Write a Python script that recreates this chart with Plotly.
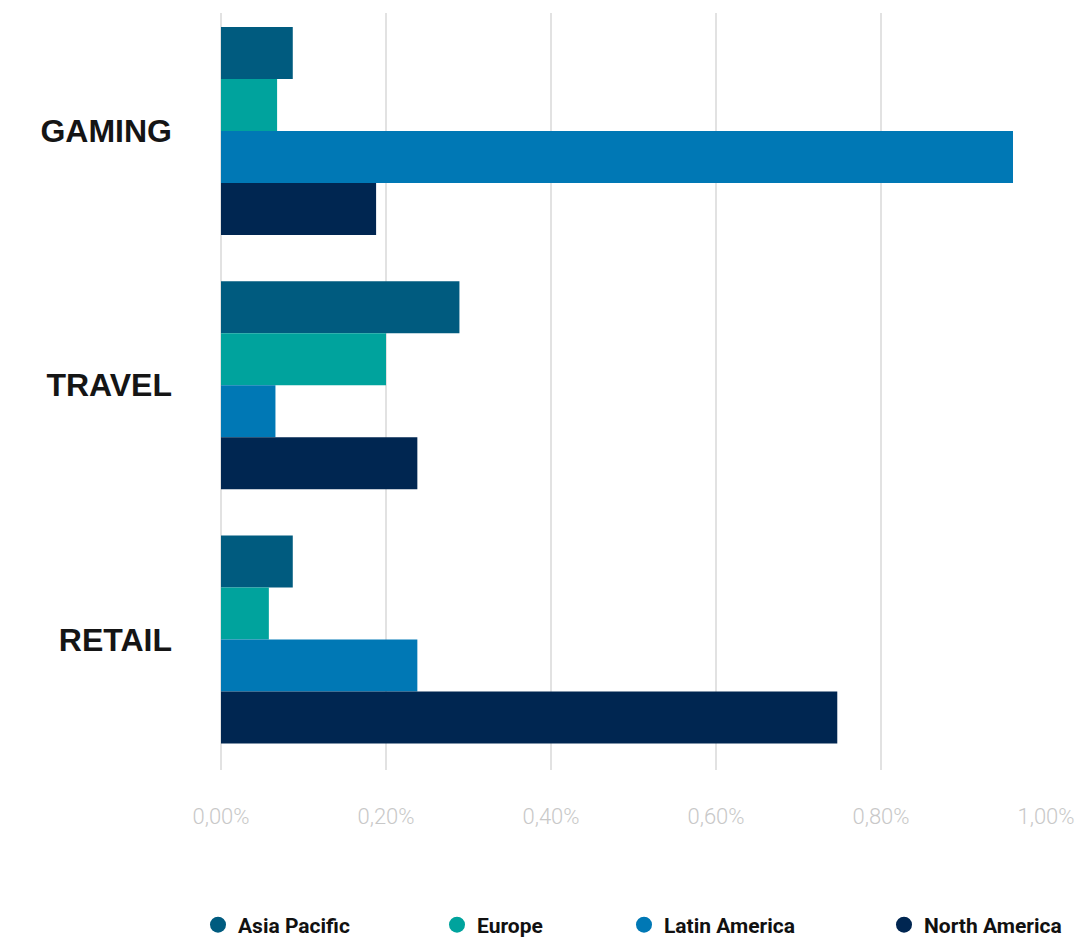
import plotly.graph_objects as go

categories = ["GAMING", "TRAVEL", "RETAIL"]
series_names = ["Asia Pacific", "Europe", "Latin America", "North America"]
asia_pacific = [0.087, 0.289, 0.087]
europe = [0.068, 0.200, 0.058]
latin_america = [0.960, 0.066, 0.238]
north_america = [0.188, 0.238, 0.747]
tick_values = [0.0, 0.2, 0.4, 0.6, 0.8, 1.0]
tick_labels = ["0,00%", "0,20%", "0,40%", "0,60%", "0,80%", "1,00%"]

colors = ["#005B7F", "#00A39D", "#0078B5", "#002651"]
series_values = [asia_pacific, europe, latin_america, north_america]

fig = go.Figure()
for name, vals, col in zip(series_names, series_values, colors):
    fig.add_trace(go.Bar(
        name=name, y=categories, x=vals, orientation="h",
        marker=dict(color=col, line=dict(width=0)),
        showlegend=False,
    ))

legend_keys = ["legend", "legend2", "legend3", "legend4"]
for name, col, lk in zip(series_names, colors, legend_keys):
    fig.add_trace(go.Scatter(
        name=name, x=[None], y=[None], mode="markers",
        marker=dict(color=col, size=22, symbol="circle"),
        showlegend=True, legend=lk,
    ))

W, H = 1081, 944
plot_l, plot_r, plot_t, plot_b = 221, 1046, 13, 770
pw = plot_r - plot_l
ph = plot_b - plot_t

legend_font = dict(family="Roboto", size=21, color="#111111", weight="bold")
legend_text_starts = [238, 477, 664, 924]
leg_layout = {}
for lk, ts in zip(legend_keys, legend_text_starts):
    left_px = ts - 40
    leg_layout[lk] = dict(
        x=(left_px - plot_l) / pw, xanchor="left",
        y=-(925 - plot_b) / ph, yanchor="middle",
        orientation="h", font=legend_font,
        bgcolor="rgba(0,0,0,0)", itemsizing="trace",
    )

fig.update_layout(
    width=W, height=H,
    margin=dict(l=plot_l, r=W - plot_r, t=plot_t, b=H - plot_b, autoexpand=False),
    paper_bgcolor="white", plot_bgcolor="white",
    barmode="group", bargap=0.182, bargroupgap=0,
    **leg_layout,
)

fig.update_xaxes(
    range=[0, 1.0], tickvals=tick_values, ticktext=tick_labels,
    showgrid=True, gridcolor="#E2E2E2", gridwidth=2,
    zeroline=True, zerolinecolor="#E2E2E2", zerolinewidth=2,
    showline=False, ticks="", automargin=False,
    tickfont=dict(family="Roboto", size=22, color="#C8C8C8", weight=300),
    ticklabelstandoff=31,
)

fig.update_yaxes(
    type="category", categoryorder="array", categoryarray=categories,
    range=[2.513, -0.464], automargin=False,
    showgrid=False, zeroline=False, showline=False, ticks="",
    tickfont=dict(family="Liberation Sans", size=32, color="#151515", weight="bold"),
    ticklabelstandoff=48,
)

fig.write_html(
    "out.html",
    config={"displayModeBar": False},
    post_script="document.body.style.margin='0';document.body.style.overflow='hidden';",
)
